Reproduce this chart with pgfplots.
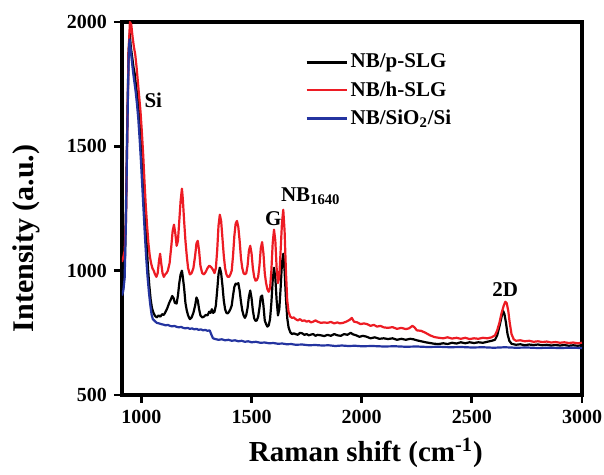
\documentclass[border=0pt]{standalone}
\usepackage{fontspec}
\setmainfont{Liberation Serif}
\usepackage{pgfplots}
\pgfplotsset{compat=1.18}
\definecolor{myred}{RGB}{237,28,36}
\definecolor{myblue}{RGB}{36,52,160}

\begin{document}
\begin{tikzpicture}
\begin{axis}[
    scale only axis,
    width=230pt, height=186.5pt,
    xmin=912, xmax=3000,
    ymin=500, ymax=2000,
    xtick={1000,1500,2000,2500,3000},
    ytick={500,1000,1500,2000},
    xtick pos=bottom, ytick pos=left,
    tick align=outside,
    major tick length=4pt,
    tick style={line width=1.4pt, black},
    axis line style={line width=2pt},
    ticklabel style={font=\fontsize{10}{12}\selectfont\bfseries},
    /pgf/number format/assume math mode=true,
    /pgf/number format/1000 sep={},
    xlabel={Raman shift (cm\textsuperscript{-1})},
    ylabel={Intensity (a.u.)},
    every axis x label/.style={at={(axis description cs:0.53,-0.155)}, anchor=center,
        font=\fontsize{14.5}{18}\selectfont\bfseries},
    every axis y label/.style={at={(axis description cs:-0.209,0.42)}, rotate=90, anchor=center,
        font=\fontsize{15}{18}\selectfont\bfseries},
    legend style={at={(0.385,0.934)}, anchor=north west, draw=none, fill=none,
        font=\fontsize{10.5}{12}\selectfont\bfseries, row sep=2.3pt,
        nodes={inner sep=1.5pt}},
    legend cell align=left,
    legend image code/.code={\draw[#1] (0pt,0pt) -- (20pt,0pt);},
    every axis plot/.append style={line width=1.1pt, line join=round},
]
\addplot[black] coordinates {
(912,915) (918,930) (924,1000) (930,1250) (936,1600) (942,1880) (947,1955) (952,1900)
(958,1860) (964,1820) (970,1790) (976,1740) (982,1700) (988,1660) (994,1590) (1000,1500)
(1006,1400) (1012,1300) (1018,1210) (1024,1110) (1030,1010) (1036,940) (1042,885) (1048,850)
(1055,830) (1062,818) (1070,812) (1078,820) (1086,815) (1094,825) (1102,822) (1110,835)
(1118,850) (1126,870) (1134,885) (1140,898) (1146,890) (1152,870) (1160,868) (1166,900)
(1172,950) (1178,985) (1184,1000) (1188,975) (1194,930) (1200,870) (1206,840) (1212,820)
(1220,805) (1228,812) (1236,830) (1244,860) (1250,892) (1256,880) (1262,845) (1268,820)
(1276,812) (1284,815) (1292,822) (1300,820) (1308,835) (1314,830) (1320,845) (1326,830)
(1332,835) (1338,860) (1344,920) (1350,985) (1356,1012) (1362,990) (1368,940) (1374,880)
(1380,845) (1386,830) (1392,828) (1398,835) (1404,845) (1410,860) (1416,900) (1422,935)
(1428,948) (1434,945) (1440,950) (1446,920) (1452,875) (1458,840) (1464,820) (1470,810)
(1476,822) (1482,850) (1488,895) (1494,920) (1500,890) (1506,840) (1512,808) (1518,798)
(1524,800) (1530,815) (1536,850) (1542,895) (1548,900) (1554,860) (1560,800) (1566,785)
(1572,775) (1578,780) (1584,805) (1590,870) (1596,960) (1602,1012) (1608,970) (1614,880)
(1620,820) (1626,845) (1632,930) (1638,1030) (1644,1068) (1650,1000) (1656,890) (1662,810)
(1668,772) (1676,752) (1684,745) (1692,748) (1700,745) (1710,742) (1720,750) (1730,748)
(1740,742) (1750,745) (1760,740) (1770,743) (1780,745) (1790,738) (1800,742) (1815,740)
(1830,737) (1845,742) (1860,738) (1875,745) (1890,740) (1905,738) (1920,745) (1935,742)
(1950,750) (1960,744) (1975,740) (1990,734) (2005,738) (2020,735) (2040,728) (2060,732)
(2080,726) (2100,728) (2120,725) (2140,728) (2160,722) (2180,726) (2200,722) (2220,726)
(2235,724) (2250,720) (2270,716) (2290,712) (2310,709) (2330,706) (2350,705) (2370,708)
(2390,705) (2410,710) (2430,707) (2450,712) (2470,708) (2490,712) (2510,709) (2530,712)
(2550,710) (2570,714) (2590,718) (2605,722) (2615,740) (2625,775) (2635,815) (2642,838)
(2648,825) (2655,790) (2662,745) (2670,718) (2680,706) (2690,704) (2700,702) (2720,704)
(2740,700) (2760,703) (2780,701) (2800,703) (2820,700) (2840,702) (2860,699) (2880,701)
(2900,699) (2920,701) (2940,698) (2960,700) (2980,698) (3000,700)
};
\addlegendentry{NB/p-SLG}
\addplot[myred] coordinates {
(912,1035) (918,1055) (924,1080) (930,1200) (936,1550) (942,1880) (948,2000) (954,1990)
(960,1940) (966,1900) (972,1870) (978,1820) (984,1760) (990,1700) (996,1640) (1002,1560)
(1008,1470) (1014,1360) (1020,1260) (1026,1180) (1032,1110) (1038,1060) (1044,1030) (1050,1010)
(1056,1000) (1062,985) (1068,975) (1074,990) (1080,1040) (1085,1068) (1090,1030) (1096,990)
(1102,975) (1108,985) (1114,990) (1120,1000) (1128,1030) (1136,1100) (1142,1160) (1148,1185)
(1154,1150) (1160,1100) (1166,1120) (1172,1200) (1178,1280) (1184,1330) (1188,1290) (1194,1200)
(1200,1120) (1206,1060) (1212,1010) (1220,985) (1228,990) (1236,1010) (1244,1060) (1250,1110)
(1256,1120) (1262,1080) (1268,1020) (1276,990) (1284,985) (1292,995) (1300,1010) (1308,1020)
(1316,1015) (1324,1005) (1332,990) (1338,1010) (1344,1080) (1350,1180) (1356,1225) (1362,1200)
(1368,1130) (1374,1060) (1380,1010) (1386,985) (1392,975) (1398,975) (1404,985) (1410,1000)
(1416,1060) (1422,1140) (1428,1190) (1434,1200) (1440,1175) (1446,1120) (1452,1050) (1458,1010)
(1464,990) (1470,985) (1476,990) (1482,1020) (1488,1080) (1494,1100) (1500,1070) (1506,1010)
(1512,975) (1518,960) (1524,962) (1530,975) (1536,1020) (1542,1090) (1548,1115) (1554,1070)
(1560,990) (1566,950) (1572,925) (1578,915) (1584,930) (1590,1000) (1596,1110) (1602,1165)
(1608,1120) (1614,1010) (1620,950) (1626,975) (1632,1080) (1638,1190) (1644,1245) (1650,1160)
(1656,1000) (1662,880) (1668,835) (1676,815) (1684,810) (1692,812) (1700,805) (1710,800)
(1720,805) (1730,798) (1740,800) (1750,795) (1760,798) (1770,792) (1780,795) (1790,800)
(1800,795) (1815,790) (1830,792) (1845,790) (1860,794) (1875,788) (1890,792) (1900,788)
(1915,790) (1930,795) (1945,802) (1955,810) (1965,795) (1980,792) (1995,785) (2010,788)
(2025,785) (2040,778) (2055,782) (2070,775) (2085,778) (2100,772) (2120,770) (2140,773)
(2160,766) (2180,770) (2200,765) (2215,768) (2230,778) (2240,772) (2250,760) (2270,758)
(2290,750) (2310,740) (2330,733) (2350,730) (2370,728) (2390,732) (2410,727) (2430,730)
(2450,726) (2470,730) (2490,725) (2510,728) (2530,726) (2550,730) (2570,728) (2590,732)
(2605,740) (2615,760) (2625,790) (2635,830) (2645,860) (2652,875) (2658,870) (2665,840)
(2672,790) (2680,745) (2690,724) (2700,718) (2720,720) (2740,716) (2760,718) (2780,714)
(2800,716) (2820,713) (2840,715) (2860,711) (2880,713) (2900,710) (2920,712) (2940,709)
(2960,711) (2980,708) (3000,710)
};
\addlegendentry{NB/h-SLG}
\addplot[myblue] coordinates {
(912,900) (918,920) (924,970) (930,1200) (936,1550) (942,1850) (946,1930) (950,1900)
(956,1850) (962,1800) (968,1760) (974,1720) (980,1670) (986,1610) (992,1530) (998,1440)
(1004,1340) (1010,1240) (1016,1140) (1022,1050) (1028,975) (1034,915) (1040,865) (1046,825)
(1052,805) (1060,798) (1070,790) (1080,788) (1090,785) (1100,783) (1110,780) (1120,782)
(1130,778) (1140,776) (1150,778) (1160,774) (1170,772) (1180,774) (1190,770) (1200,768)
(1210,770) (1220,766) (1230,768) (1240,764) (1250,766) (1260,762) (1270,764) (1280,760)
(1290,762) (1300,758) (1310,760) (1318,742) (1325,728) (1335,725) (1350,722) (1365,724)
(1380,720) (1395,722) (1410,718) (1425,720) (1440,716) (1455,718) (1470,714) (1485,716)
(1500,712) (1520,714) (1540,710) (1560,711) (1580,708) (1600,709) (1620,706) (1640,707)
(1660,704) (1680,705) (1700,702) (1730,703) (1760,700) (1790,701) (1820,699) (1850,700)
(1880,697) (1910,699) (1940,697) (1970,698) (2000,696) (2050,697) (2100,695) (2150,696)
(2200,694) (2250,695) (2300,693) (2350,694) (2400,692) (2450,693) (2500,691) (2550,692)
(2600,690) (2650,692) (2700,690) (2750,691) (2800,689) (2850,690) (2900,689) (2950,690)
(3000,689)
};
\addlegendentry{NB/SiO\textsubscript{2}/Si}
\begin{scope}[font=\fontsize{10.5}{12}\selectfont\bfseries]
\node at (axis cs:1054,1685) {Si};
\node at (axis cs:1599,1210) {G};
\node[anchor=west, inner sep=0pt] at (axis cs:1632,1300) {NB\textsubscript{1640}};
\node at (axis cs:2651,924) {2D};
\end{scope}
\end{axis}
\pgfresetboundingbox
\path[use as bounding box] (-61pt,-40pt) rectangle (241pt,197.5pt);
\end{tikzpicture}
\end{document}
